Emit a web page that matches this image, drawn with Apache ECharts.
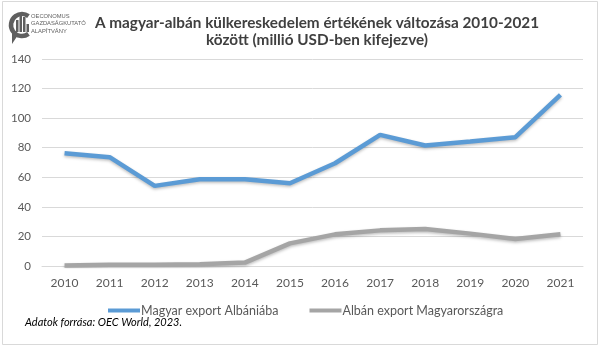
<!DOCTYPE html>
<html><head><meta charset="utf-8">
<script src="https://cdn.jsdelivr.net/npm/echarts@6/dist/echarts.min.js"></script>
<style>html,body{margin:0;padding:0;background:#fff}#c{width:600px;height:346px}</style>
</head><body><div id="c"></div>
<script>
const years = ['2010','2011','2012','2013','2014','2015','2016','2017','2018','2019','2020','2021'];
const huExport = [76.3, 73.6, 54.2, 58.7, 58.6, 56.0, 69.5, 88.7, 81.5, 84.2, 87.1, 115.8];
const alExport = [0.3, 0.8, 0.8, 1.2, 2.3, 15.3, 21.4, 24.1, 25.0, 21.9, 18.3, 21.5];
const seriesNames = ['Magyar export Albániába', 'Albán export Magyarországra'];
const titleLines = ['A magyar-albán külkereskedelem értékének változása 2010-2021', 'között (millió USD-ben kifejezve)'];
const sourceText = 'Adatok forrása: OEC World, 2023.';

const chart = echarts.init(document.getElementById('c'), null, {renderer:'canvas'});
const font = 'Lato, "Open Sans", sans-serif';
chart.setOption({
  animation:false,
  backgroundColor:'#fff',
  title:{
    text: titleLines.join('\n'),
    left: 312, top: 10, textAlign:'center',
    textStyle:{fontFamily:font, fontSize:15.3, fontWeight:'bold', color:'#404040', lineHeight:17}
  },
  legend:{
    data: seriesNames, top: 299, left:103, itemGap:31,
    itemWidth:32, itemHeight:4,
    icon:'rect',
    textStyle:{fontFamily:font, fontSize:12.5, color:'#595959', padding:[0,0,0,-4]}
  },
  grid:{left:42, right:17, top:59, bottom:80},
  xAxis:{
    type:'category', data: years, boundaryGap:true,
    axisLine:{lineStyle:{color:'#d9d9d9', width:1}},
    axisTick:{show:false},
    axisLabel:{fontFamily:font, fontSize:12, color:'#595959', margin:11}
  },
  yAxis:{
    type:'value', min:0, max:140, interval:20,
    axisLine:{show:false}, axisTick:{show:false},
    splitLine:{lineStyle:{color:'#d9d9d9', width:1}},
    axisLabel:{fontFamily:font, fontSize:11.5, color:'#595959', margin:11}
  },
  series:[
    {name:seriesNames[0], type:'line', data:huExport, symbol:'none',
     lineStyle:{color:'#5b9bd5', width:4.5, shadowColor:'rgba(0,0,0,0.25)', shadowBlur:3, shadowOffsetY:1.5},
     itemStyle:{color:'#5b9bd5'}},
    {name:seriesNames[1], type:'line', data:alExport, symbol:'none',
     lineStyle:{color:'#a5a5a5', width:4.5, shadowColor:'rgba(0,0,0,0.25)', shadowBlur:3, shadowOffsetY:1.5},
     itemStyle:{color:'#a5a5a5'}}
  ],
  graphic:[
    {type:'rect', shape:{x:2.5,y:1.5,width:595,height:343}, style:{fill:'none', stroke:'#d9d9d9', lineWidth:1}, silent:true},
    {type:'text', left:25, top:317, style:{text:sourceText, fontFamily:font, fontSize:11, fontStyle:'italic', fill:'#000'}},
    // logo
    {type:'arc', shape:{cx:22, cy:25, r:11, startAngle:Math.PI*0.3, endAngle:Math.PI*1.7, clockwise:true}, style:{stroke:'#5f5f5f', lineWidth:4.5, fill:'none'}},
    {type:'polygon', shape:{points:[[12,32],[12,44],[18,35]]}, style:{fill:'#5f5f5f'}},
    {type:'rect', shape:{x:16,y:20,width:2.5,height:12}, style:{fill:'#5f5f5f'}},
    {type:'rect', shape:{x:19.5,y:13,width:2.5,height:19}, style:{fill:'#5f5f5f'}},
    {type:'rect', shape:{x:23,y:17,width:2.5,height:15}, style:{fill:'#5f5f5f'}},
    {type:'rect', shape:{x:26.5,y:24,width:2.5,height:8}, style:{fill:'#5f5f5f'}},
    {type:'text', left:31, top:12.5, style:{text:'OECONOMUS\nGAZDASÁGKUTATÓ\nALAPÍTVÁNY', fontFamily:'"Liberation Sans Narrow", sans-serif', fontSize:5.8, lineHeight:7.5, fill:'#5f5f5f'}}
  ]
});
</script></body></html>
